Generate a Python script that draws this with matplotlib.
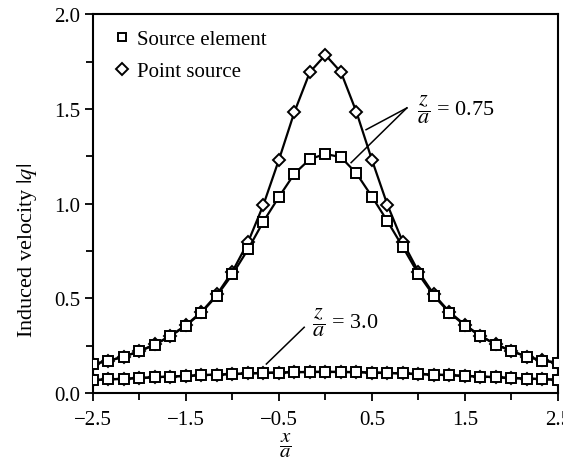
import numpy as np
import matplotlib
matplotlib.use('Agg')
import matplotlib.pyplot as plt
from matplotlib.lines import Line2D

plt.rcParams['font.family'] = ['Liberation Serif', 'DejaVu Serif']
plt.rcParams['mathtext.fontset'] = 'stix'

# x/a positions, 31 stations from -2.5 to 2.5
x = [-2.5, -2.333, -2.167, -2.0, -1.833, -1.667, -1.5, -1.333, -1.167, -1.0,
     -0.833, -0.667, -0.5, -0.333, -0.167, 0.0, 0.167, 0.333, 0.5, 0.667,
     0.833, 1.0, 1.167, 1.333, 1.5, 1.667, 1.833, 2.0, 2.167, 2.333, 2.5]

# z/a = 0.75
point_075 = [0.152, 0.170, 0.192, 0.221, 0.257, 0.302, 0.358, 0.428, 0.520, 0.641,
             0.795, 0.993, 1.231, 1.484, 1.694, 1.785, 1.694, 1.484, 1.231, 0.993,
             0.796, 0.641, 0.520, 0.428, 0.360, 0.302, 0.257, 0.222, 0.192, 0.172, 0.160]
element_075 = [0.152, 0.170, 0.192, 0.220, 0.255, 0.300, 0.355, 0.424, 0.514, 0.626,
               0.758, 0.905, 1.035, 1.158, 1.235, 1.262, 1.245, 1.160, 1.037, 0.907,
               0.770, 0.628, 0.512, 0.424, 0.356, 0.300, 0.256, 0.221, 0.191, 0.171, 0.158]

# z/a = 3.0
point_30 = [0.068, 0.072, 0.075, 0.079, 0.083, 0.087, 0.090, 0.094, 0.097, 0.100,
            0.103, 0.106, 0.108, 0.110, 0.111, 0.112, 0.111, 0.110, 0.108, 0.106,
            0.103, 0.100, 0.097, 0.094, 0.090, 0.087, 0.083, 0.079, 0.076, 0.073, 0.070]
element_30 = [0.068, 0.072, 0.075, 0.079, 0.083, 0.087, 0.090, 0.094, 0.097, 0.100,
              0.103, 0.106, 0.108, 0.110, 0.111, 0.111, 0.111, 0.110, 0.108, 0.106,
              0.103, 0.100, 0.097, 0.094, 0.090, 0.087, 0.083, 0.079, 0.076, 0.073, 0.070]

fig = plt.figure(figsize=(5.63, 4.60), dpi=100)
ax = fig.add_axes([0.165, 0.1435, 0.826, 0.8235])

lw = 1.6
sq = dict(marker='s', markersize=6.8, markerfacecolor='white', markeredgecolor='black',
          markeredgewidth=1.4, color='black', linewidth=lw)
di = dict(marker='D', markersize=6.4, markerfacecolor='white', markeredgecolor='black',
          markeredgewidth=1.4, color='black', linewidth=lw)

ax.plot(x, point_075, **di, zorder=3)
ax.plot(x, element_075, **sq, zorder=4)
ax.plot(x, point_30, **di, zorder=3)
ax.plot(x, element_30, **sq, zorder=4)

ax.set_xlim(-2.5, 2.5)
ax.set_ylim(0, 2.0)
ax.set_xticks([-2.5, -1.5, -0.5, 0.5, 1.5, 2.5])
ax.set_xticks([-2.0, -1.0, 0.0, 1.0, 2.0], minor=True)
ax.set_xticklabels(['\u22122.5', '\u22121.5', '\u22120.5', '0.5', '1.5', '2.5'])
ax.set_yticks([0, 0.5, 1.0, 1.5, 2.0])
ax.set_yticks([0.25, 0.75, 1.25, 1.75], minor=True)
ax.set_yticklabels(['0.0', '0.5', '1.0', '1.5', '2.0'])
ax.tick_params(which='major', direction='out', length=6, width=1.3, labelsize=15, pad=3)
ax.tick_params(axis='x', which='major', pad=6)
ax.tick_params(which='minor', direction='out', length=5, width=1.3)
for s in ax.spines.values():
    s.set_linewidth(1.5)

ax.set_ylabel('Induced velocity $|q|$', fontsize=16)
ax.yaxis.set_label_coords(-0.115, 0.38)
ax.set_xlabel(r'$\dfrac{x}{a}$', fontsize=15)
ax.xaxis.set_label_coords(0.413, -0.1)

handles = [Line2D([], [], linestyle='none', marker='s', markersize=6, markerfacecolor='white',
                  markeredgecolor='black', markeredgewidth=1.4),
           Line2D([], [], linestyle='none', marker='D', markersize=6, markerfacecolor='white',
                  markeredgecolor='black', markeredgewidth=1.4)]
ax.legend(handles, ['Source element', 'Point source'], loc='upper left', frameon=False,
          fontsize=15, handlelength=0.8, handletextpad=0.3, labelspacing=0.6,
          borderaxespad=0.35, bbox_to_anchor=(0.012, 1.0))

ax.text(0.98, 1.50, r'$\dfrac{z}{a}$ = 0.75', fontsize=16, va='center', ha='left')
ax.plot([0.876, 0.437], [1.505, 1.39], color='black', linewidth=1.1)
ax.plot([0.876, 0.276], [1.505, 1.216], color='black', linewidth=1.1)

ax.text(-0.14, 0.375, r'$\dfrac{z}{a}$ = 3.0', fontsize=16, va='center', ha='left')
ax.plot([-0.228, -0.635], [0.347, 0.153], color='black', linewidth=1.1)

fig.savefig('out.png', dpi=100)
